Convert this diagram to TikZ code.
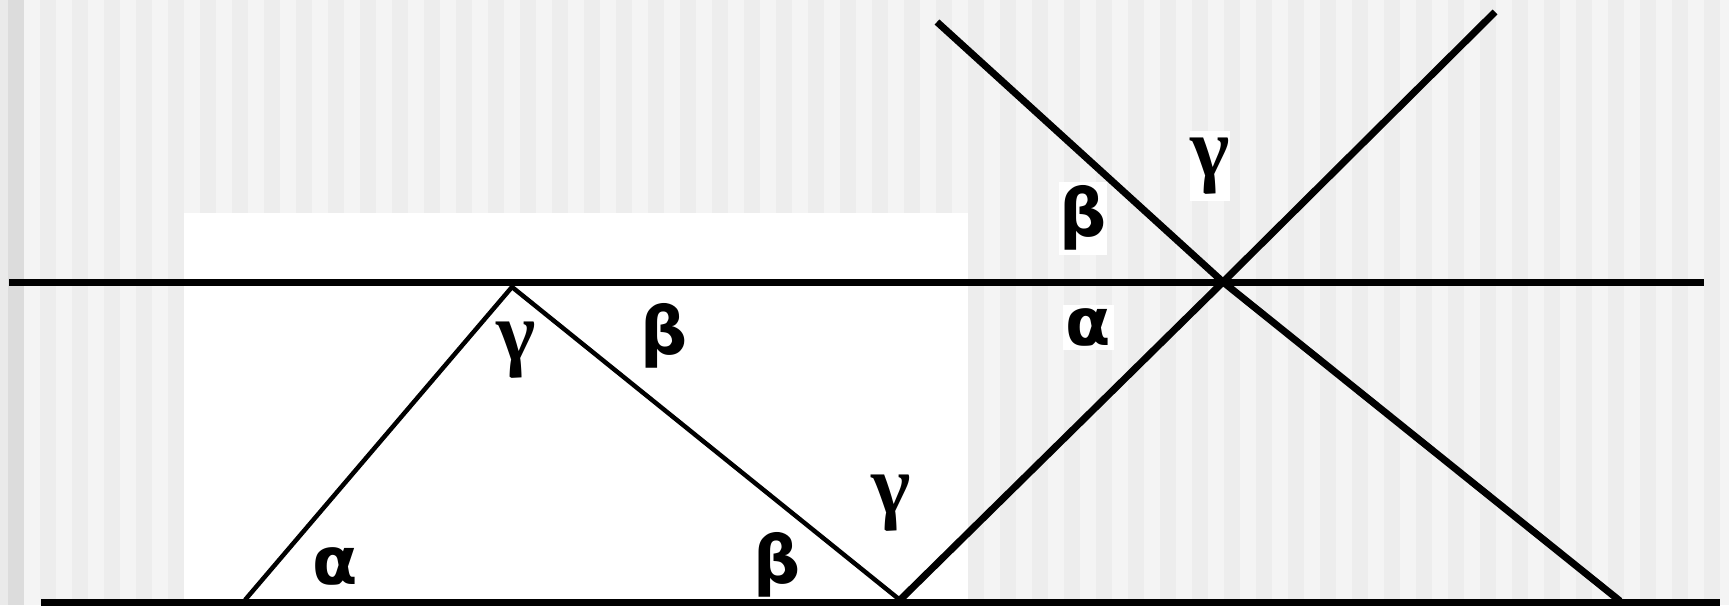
\documentclass[tikz,border=0pt]{standalone}
\usepackage{fontspec}
\setmainfont{Liberation Sans}
\newfontfamily\abfont{DejaVu Sans}[BoldFont={* Bold}]
\newfontfamily\gfont{Liberation Serif}
\definecolor{bglight}{HTML}{F4F4F4}
\definecolor{bgdark}{HTML}{EDEDED}
\definecolor{edgegray}{HTML}{DCDCDC}
\definecolor{edgelight}{HTML}{EAEAEA}
\begin{document}
\begin{tikzpicture}[x=1pt,y=-1pt,line join=miter,
  thickline/.style={line width=7pt},
  thinline/.style={line width=4.5pt},
  greek/.style={inner sep=0pt,font=\abfont\bfseries\fontsize{66}{70}\selectfont},
  greekg/.style={inner sep=0pt,font=\gfont\bfseries\fontsize{84}{88}\selectfont},
  boxed/.style={fill=white}]
\useasboundingbox (0,0) rectangle (1729,605);
\begin{scope}
\clip (0,0) rectangle (1729,605);
\fill[bglight] (0,0) rectangle (1729,605);
\foreach \k in {0,...,53} \fill[bgdark] ({40+32*\k},0) rectangle ({56+32*\k},605);
\fill[edgelight] (0,0) rectangle (8,605);
\fill[edgegray] (8,0) rectangle (24,605);
\fill[white] (184,213) rectangle (968,605);
\end{scope}
% labels
\node[greek] (a1) at (335,566) {α};
\node[greekg] (g1) at (516,350) {γ};
\node[greek] (b1) at (664,336) {β};
\node[greek] (b2) at (777,565) {β};
\node[greekg] (g2) at (891,503) {γ};
\node[greek,boxed,minimum width=39,minimum height=73] (b3) at (1083,218) {β};
\node[greekg,boxed,minimum width=39,minimum height=70] (g3) at (1210,166) {γ};
\node[greek,boxed,minimum width=51,minimum height=45] (a2) at (1088,327) {α};
% points
\coordinate (UL) at (9,282);
\coordinate (UR) at (1704,282);
\coordinate (LL) at (41,602);
\coordinate (LR) at (1720,602);
\coordinate (A) at (245,600);
\coordinate (B) at (512,287);
\coordinate (C) at (900,600);
\coordinate (X) at (1223,282);
\coordinate (T1) at (1495,12);
\coordinate (T2) at (937,22);
\coordinate (E2) at (1620,601);
% lines
\begin{scope}
\clip (0,0) rectangle (1729,605);
\draw[thickline] (UL) -- (UR);
\draw[thickline] (LL) -- (LR);
\draw[thinline] (A) -- (B) -- (C);
\draw[thickline] (C) -- (X) -- (T1);
\draw[thickline] (T2) -- (X) -- (E2);
\end{scope}
\end{tikzpicture}
\end{document}
